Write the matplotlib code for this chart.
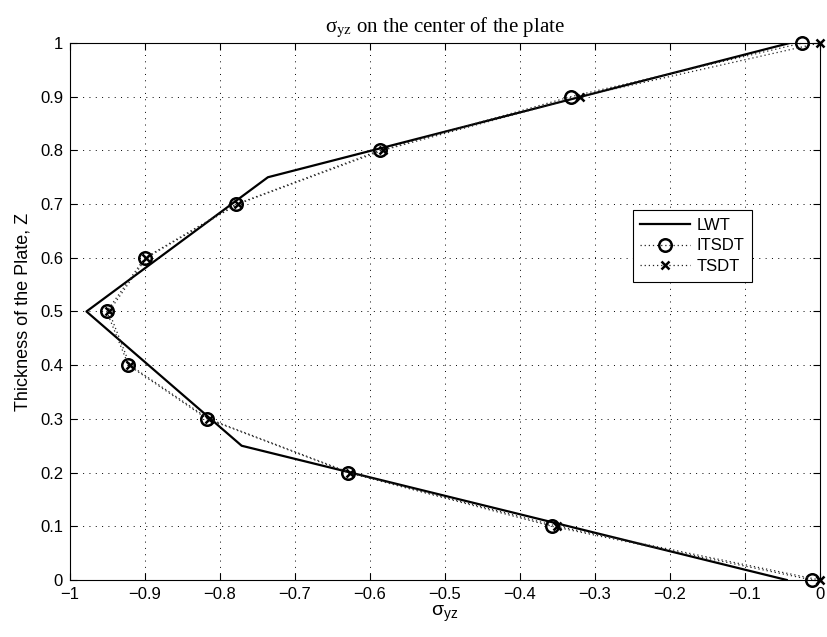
import matplotlib
matplotlib.use("Agg")
import matplotlib.pyplot as plt

# Through-thickness positions (normalised) and sigma_yz values
z_lwt = [0.0, 0.25, 0.5, 0.75, 1.0]
s_lwt = [-0.044, -0.771, -0.978, -0.736, -0.040]

z_pts = [0.0, 0.1, 0.2, 0.3, 0.4, 0.5, 0.6, 0.7, 0.8, 0.9, 1.0]
s_itsdt = [-0.010, -0.357, -0.629, -0.817, -0.922, -0.951, -0.900, -0.778, -0.587, -0.332, -0.023]
s_tsdt = [0.000, -0.350, -0.627, -0.815, -0.920, -0.948, -0.898, -0.776, -0.583, -0.320, 0.000]

x_ticks = [-1, -0.9, -0.8, -0.7, -0.6, -0.5, -0.4, -0.3, -0.2, -0.1, 0]
y_ticks = [0, 0.1, 0.2, 0.3, 0.4, 0.5, 0.6, 0.7, 0.8, 0.9, 1]

plt.rcParams['font.family'] = ['Liberation Sans', 'DejaVu Sans']
plt.rcParams['axes.unicode_minus'] = True
plt.rcParams['mathtext.rm'] = 'Liberation Sans'
plt.rcParams['mathtext.it'] = 'Liberation Sans:italic'

fig = plt.figure(figsize=(8.28, 6.37), dpi=100)
ax = fig.add_axes([0.0845, 0.0895, 0.9055, 0.843])

dots = (0, (1, 2.3))
ax.plot(s_lwt, z_lwt, color='black', lw=1.6, label='LWT')
ax.plot(s_itsdt, z_pts, color='#222222', lw=0.9, linestyle=dots,
        marker='o', markersize=9, markerfacecolor='none', markeredgecolor='black',
        markeredgewidth=1.8, label='ITSDT', clip_on=False)
ax.plot(s_tsdt, z_pts, color='#222222', lw=0.9, linestyle=dots,
        marker='x', markersize=6, markeredgecolor='black', markeredgewidth=1.8,
        label='TSDT', clip_on=False)

ax.set_xlim(-1, 0)
ax.set_ylim(0, 1)
ax.set_xticks(x_ticks)
ax.set_yticks(y_ticks)
ax.set_xticklabels([f"{v:g}".replace('-', '\u2212') for v in x_ticks])
ax.set_yticklabels([f"{v:g}" for v in y_ticks])
ax.tick_params(direction='in', top=True, right=True, length=5, width=0.8,
               labelsize=12, pad=5)
ax.grid(True, color='black', linestyle=(0, (1, 5.5)), linewidth=0.7)
for sp in ax.spines.values():
    sp.set_linewidth(0.8)

ax.set_xlabel('\u03c3$_{\\mathrm{yz}}$', fontsize=14, labelpad=1,
              math_fontfamily='custom')
ax.set_ylabel('Thickness of the Plate, Z', fontsize=13, labelpad=6)
ax.set_title('\u03c3$_{\\mathrm{yz}}$ on the center of the plate', fontsize=15,
             family='Liberation Serif', math_fontfamily='stix', pad=8)

leg = ax.legend(loc='upper left', bbox_to_anchor=(0.7507, 0.689), fontsize=12,
                frameon=True, fancybox=False, edgecolor='black', framealpha=1,
                handlelength=3.0, borderpad=0.45, labelspacing=0.35,
                handletextpad=0.4, borderaxespad=0)
leg.get_frame().set_linewidth(0.8)

fig.savefig('out.png', dpi=100)
